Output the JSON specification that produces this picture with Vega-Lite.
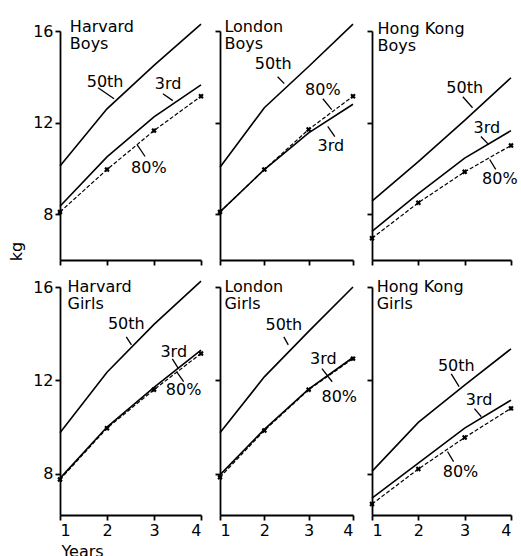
{
"$schema": "https://vega.github.io/schema/vega-lite/v6.json",
"padding": {"left": 8, "top": 19, "right": 0, "bottom": 0},
"background": "white",
"config": {
  "view": {"stroke": null},
  "axis": {"domainColor": "black", "domainWidth": 1.8, "tickColor": "black", "tickWidth": 1.8, "tickSize": 5, "labelFont": "DejaVu Sans", "labelFontSize": 16, "labelColor": "black", "grid": false, "labelPadding": 2, "titleFont": "DejaVu Sans", "titleFontSize": 16, "titleFontWeight": "normal", "titleColor": "black"},
  "text": {"font": "DejaVu Sans", "fontSize": 16, "color": "black"}
},
"datasets": {
  "lines": [
    {"p":"HB","s":"50th","x":1,"y":10.1},{"p":"HB","s":"50th","x":2,"y":12.6},{"p":"HB","s":"50th","x":3,"y":14.5},{"p":"HB","s":"50th","x":4,"y":16.3},
    {"p":"HB","s":"3rd","x":1,"y":8.35},{"p":"HB","s":"3rd","x":2,"y":10.5},{"p":"HB","s":"3rd","x":3,"y":12.25},{"p":"HB","s":"3rd","x":4,"y":13.65},
    {"p":"HB","s":"80%","x":1,"y":8.1},{"p":"HB","s":"80%","x":2,"y":9.95},{"p":"HB","s":"80%","x":3,"y":11.65},{"p":"HB","s":"80%","x":4,"y":13.15},
    {"p":"LB","s":"50th","x":1,"y":10.05},{"p":"LB","s":"50th","x":2,"y":12.65},{"p":"LB","s":"50th","x":3,"y":14.45},{"p":"LB","s":"50th","x":4,"y":16.3},
    {"p":"LB","s":"3rd","x":1,"y":8.1},{"p":"LB","s":"3rd","x":2,"y":9.95},{"p":"LB","s":"3rd","x":3,"y":11.55},{"p":"LB","s":"3rd","x":4,"y":12.8},
    {"p":"LB","s":"80%","x":1,"y":8.1},{"p":"LB","s":"80%","x":2,"y":9.95},{"p":"LB","s":"80%","x":3,"y":11.7},{"p":"LB","s":"80%","x":4,"y":13.15},
    {"p":"HKB","s":"50th","x":1,"y":8.57},{"p":"HKB","s":"50th","x":2,"y":10.3},{"p":"HKB","s":"50th","x":3,"y":12.1},{"p":"HKB","s":"50th","x":4,"y":13.96},
    {"p":"HKB","s":"3rd","x":1,"y":7.25},{"p":"HKB","s":"3rd","x":2,"y":8.9},{"p":"HKB","s":"3rd","x":3,"y":10.45},{"p":"HKB","s":"3rd","x":4,"y":11.65},
    {"p":"HKB","s":"80%","x":1,"y":6.95},{"p":"HKB","s":"80%","x":2,"y":8.5},{"p":"HKB","s":"80%","x":3,"y":9.85},{"p":"HKB","s":"80%","x":4,"y":11.0},
    {"p":"HG","s":"50th","x":1,"y":9.75},{"p":"HG","s":"50th","x":2,"y":12.35},{"p":"HG","s":"50th","x":3,"y":14.4},{"p":"HG","s":"50th","x":4,"y":16.25},
    {"p":"HG","s":"3rd","x":1,"y":7.8},{"p":"HG","s":"3rd","x":2,"y":10.0},{"p":"HG","s":"3rd","x":3,"y":11.7},{"p":"HG","s":"3rd","x":4,"y":13.3},
    {"p":"HG","s":"80%","x":1,"y":7.75},{"p":"HG","s":"80%","x":2,"y":9.95},{"p":"HG","s":"80%","x":3,"y":11.6},{"p":"HG","s":"80%","x":4,"y":13.15},
    {"p":"LG","s":"50th","x":1,"y":9.75},{"p":"LG","s":"50th","x":2,"y":12.15},{"p":"LG","s":"50th","x":3,"y":14.1},{"p":"LG","s":"50th","x":4,"y":16.0},
    {"p":"LG","s":"3rd","x":1,"y":7.95},{"p":"LG","s":"3rd","x":2,"y":9.9},{"p":"LG","s":"3rd","x":3,"y":11.62},{"p":"LG","s":"3rd","x":4,"y":12.98},
    {"p":"LG","s":"80%","x":1,"y":7.85},{"p":"LG","s":"80%","x":2,"y":9.85},{"p":"LG","s":"80%","x":3,"y":11.6},{"p":"LG","s":"80%","x":4,"y":12.93},
    {"p":"HKG","s":"50th","x":1,"y":8.1},{"p":"HKG","s":"50th","x":2,"y":10.2},{"p":"HKG","s":"50th","x":3,"y":11.8},{"p":"HKG","s":"50th","x":4,"y":13.35},
    {"p":"HKG","s":"3rd","x":1,"y":6.95},{"p":"HKG","s":"3rd","x":2,"y":8.45},{"p":"HKG","s":"3rd","x":3,"y":9.95},{"p":"HKG","s":"3rd","x":4,"y":11.15},
    {"p":"HKG","s":"80%","x":1,"y":6.7},{"p":"HKG","s":"80%","x":2,"y":8.2},{"p":"HKG","s":"80%","x":3,"y":9.55},{"p":"HKG","s":"80%","x":4,"y":10.8}
  ],
  "labels": [
    {"p":"HB","t":"50th","x":1.96,"y":13.78},{"p":"HB","t":"3rd","x":3.3,"y":13.7},{"p":"HB","t":"80%","x":2.89,"y":10.0},
    {"p":"LB","t":"50th","x":2.2,"y":14.55},{"p":"LB","t":"80%","x":3.32,"y":13.43},{"p":"LB","t":"3rd","x":3.5,"y":10.96},
    {"p":"HKB","t":"50th","x":3.0,"y":13.52},{"p":"HKB","t":"3rd","x":3.48,"y":11.78},{"p":"HKB","t":"80%","x":3.76,"y":9.52},
    {"p":"HG","t":"50th","x":2.41,"y":14.42},{"p":"HG","t":"3rd","x":3.42,"y":13.22},{"p":"HG","t":"80%","x":3.63,"y":11.6},
    {"p":"LG","t":"50th","x":2.44,"y":14.38},{"p":"LG","t":"3rd","x":3.33,"y":12.92},{"p":"LG","t":"80%","x":3.69,"y":11.3},
    {"p":"HKG","t":"50th","x":2.82,"y":12.62},{"p":"HKG","t":"3rd","x":3.31,"y":11.17},{"p":"HKG","t":"80%","x":2.91,"y":8.09}
  ],
  "leaders": [
    {"p":"HB","x":1.81,"y":13.52,"x2":2.15,"y2":13.04},{"p":"HB","x":3.19,"y":13.26,"x2":3.4,"y2":12.96},{"p":"HB","x":2.64,"y":11.04,"x2":2.81,"y2":10.52},
    {"p":"LB","x":2.3,"y":14.0,"x2":2.45,"y2":13.7},{"p":"LB","x":3.32,"y":13.04,"x2":3.52,"y2":12.57},{"p":"LB","x":3.43,"y":11.83,"x2":3.59,"y2":11.39},
    {"p":"HKB","x":2.96,"y":13.13,"x2":3.17,"y2":12.65},{"p":"HKB","x":3.35,"y":11.39,"x2":3.52,"y2":11.04},{"p":"HKB","x":3.54,"y":10.39,"x2":3.67,"y2":9.96},
    {"p":"HG","x":2.41,"y":13.86,"x2":2.52,"y2":13.52},{"p":"HG","x":3.39,"y":12.92,"x2":3.52,"y2":12.5},{"p":"HG","x":3.63,"y":11.94,"x2":3.48,"y2":12.37},
    {"p":"LG","x":2.44,"y":13.86,"x2":2.54,"y2":13.52},{"p":"LG","x":3.3,"y":12.5,"x2":3.53,"y2":11.94},
    {"p":"HKG","x":2.71,"y":12.28,"x2":2.88,"y2":11.73},{"p":"HKG","x":3.21,"y":10.79,"x2":3.36,"y2":10.44},{"p":"HKG","x":2.63,"y":8.95,"x2":2.76,"y2":8.52}
  ],
  "titles": [
    {"p":"HB","t":"Harvard\nBoys","x":1.21,"y":16.17},
    {"p":"LB","t":"London\nBoys","x":1.1,"y":16.17},
    {"p":"HKB","t":"Hong Kong\nBoys","x":1.12,"y":16.09},
    {"p":"HG","t":"Harvard\nGirls","x":1.16,"y":16.0},
    {"p":"LG","t":"London\nGirls","x":1.1,"y":16.0},
    {"p":"HKG","t":"Hong Kong\nGirls","x":1.1,"y":16.0}
  ]
},
"columns": 3,
"bounds": "flush",
"spacing": {"row": 27, "column": 19},
"concat": [
    {"width": 141, "height": 229, "layer": [
      {"data":{"name":"lines"},"transform":[{"filter":"datum.p=='HB' && datum.s!='80%'"}],"mark":{"type":"line","color":"black","strokeWidth":1.6},
       "encoding":{"x":{"field":"x","type":"quantitative","scale":{"domain":[1,4],"nice":false,"zero":false},"axis":{"values":[1,2,3,4],"labels":false,"title":null}},
                   "y":{"field":"y","type":"quantitative","scale":{"domain":[6,16],"nice":false,"zero":false},"axis":{"values":[8,12,16],"title":"kg","titleAngle":-90,"titleX":-44,"titleY":220,"titleAlign":"center","titleBaseline":"middle"}},
                   "detail":{"field":"s"}}},
      {"data":{"name":"lines"},"transform":[{"filter":"datum.p=='HB' && datum.s=='80%'"}],"mark":{"type":"line","color":"black","strokeWidth":1.2,"strokeDash":[4,2]},
       "encoding":{"x":{"field":"x","type":"quantitative"},"y":{"field":"y","type":"quantitative"}}},
      {"data":{"name":"lines"},"transform":[{"filter":"datum.p=='HB' && datum.s=='80%'"}],"mark":{"type":"point","shape":"cross","angle":45,"filled":true,"color":"black","size":30,"opacity":1},
       "encoding":{"x":{"field":"x","type":"quantitative"},"y":{"field":"y","type":"quantitative"}}},
      {"data":{"name":"leaders"},"transform":[{"filter":"datum.p=='HB'"}],"mark":{"type":"rule","color":"black","strokeWidth":1.3},
       "encoding":{"x":{"field":"x","type":"quantitative"},"y":{"field":"y","type":"quantitative"},"x2":{"field":"x2"},"y2":{"field":"y2"}}},
      {"data":{"name":"labels"},"transform":[{"filter":"datum.p=='HB'"}],"mark":{"type":"text"},
       "encoding":{"x":{"field":"x","type":"quantitative"},"y":{"field":"y","type":"quantitative"},"text":{"field":"t"}}},
      {"data":{"name":"titles"},"transform":[{"filter":"datum.p=='HB'"}],"mark":{"type":"text","align":"left","lineBreak":"\n","lineHeight":17},
       "encoding":{"x":{"field":"x","type":"quantitative"},"y":{"field":"y","type":"quantitative"},"text":{"field":"t"}}}
    ]},
    {"width": 133, "height": 229, "layer": [
      {"data":{"name":"lines"},"transform":[{"filter":"datum.p=='LB' && datum.s!='80%'"}],"mark":{"type":"line","color":"black","strokeWidth":1.6},
       "encoding":{"x":{"field":"x","type":"quantitative","scale":{"domain":[1,4],"nice":false,"zero":false},"axis":{"values":[1,2,3,4],"labels":false,"title":null}},
                   "y":{"field":"y","type":"quantitative","scale":{"domain":[6,16],"nice":false,"zero":false},"axis":{"values":[8,12,16],"labels":false,"title":null}},
                   "detail":{"field":"s"}}},
      {"data":{"name":"lines"},"transform":[{"filter":"datum.p=='LB' && datum.s=='80%'"}],"mark":{"type":"line","color":"black","strokeWidth":1.2,"strokeDash":[4,2]},
       "encoding":{"x":{"field":"x","type":"quantitative"},"y":{"field":"y","type":"quantitative"}}},
      {"data":{"name":"lines"},"transform":[{"filter":"datum.p=='LB' && datum.s=='80%'"}],"mark":{"type":"point","shape":"cross","angle":45,"filled":true,"color":"black","size":30,"opacity":1},
       "encoding":{"x":{"field":"x","type":"quantitative"},"y":{"field":"y","type":"quantitative"}}},
      {"data":{"name":"leaders"},"transform":[{"filter":"datum.p=='LB'"}],"mark":{"type":"rule","color":"black","strokeWidth":1.3},
       "encoding":{"x":{"field":"x","type":"quantitative"},"y":{"field":"y","type":"quantitative"},"x2":{"field":"x2"},"y2":{"field":"y2"}}},
      {"data":{"name":"labels"},"transform":[{"filter":"datum.p=='LB'"}],"mark":{"type":"text"},
       "encoding":{"x":{"field":"x","type":"quantitative"},"y":{"field":"y","type":"quantitative"},"text":{"field":"t"}}},
      {"data":{"name":"titles"},"transform":[{"filter":"datum.p=='LB'"}],"mark":{"type":"text","align":"left","lineBreak":"\n","lineHeight":17},
       "encoding":{"x":{"field":"x","type":"quantitative"},"y":{"field":"y","type":"quantitative"},"text":{"field":"t"}}}
    ]},
    {"width": 139, "height": 229, "layer": [
      {"data":{"name":"lines"},"transform":[{"filter":"datum.p=='HKB' && datum.s!='80%'"}],"mark":{"type":"line","color":"black","strokeWidth":1.6},
       "encoding":{"x":{"field":"x","type":"quantitative","scale":{"domain":[1,4],"nice":false,"zero":false},"axis":{"values":[1,2,3,4],"labels":false,"title":null}},
                   "y":{"field":"y","type":"quantitative","scale":{"domain":[6,16],"nice":false,"zero":false},"axis":{"values":[8,12,16],"labels":false,"title":null}},
                   "detail":{"field":"s"}}},
      {"data":{"name":"lines"},"transform":[{"filter":"datum.p=='HKB' && datum.s=='80%'"}],"mark":{"type":"line","color":"black","strokeWidth":1.2,"strokeDash":[4,2]},
       "encoding":{"x":{"field":"x","type":"quantitative"},"y":{"field":"y","type":"quantitative"}}},
      {"data":{"name":"lines"},"transform":[{"filter":"datum.p=='HKB' && datum.s=='80%'"}],"mark":{"type":"point","shape":"cross","angle":45,"filled":true,"color":"black","size":30,"opacity":1},
       "encoding":{"x":{"field":"x","type":"quantitative"},"y":{"field":"y","type":"quantitative"}}},
      {"data":{"name":"leaders"},"transform":[{"filter":"datum.p=='HKB'"}],"mark":{"type":"rule","color":"black","strokeWidth":1.3},
       "encoding":{"x":{"field":"x","type":"quantitative"},"y":{"field":"y","type":"quantitative"},"x2":{"field":"x2"},"y2":{"field":"y2"}}},
      {"data":{"name":"labels"},"transform":[{"filter":"datum.p=='HKB'"}],"mark":{"type":"text"},
       "encoding":{"x":{"field":"x","type":"quantitative"},"y":{"field":"y","type":"quantitative"},"text":{"field":"t"}}},
      {"data":{"name":"titles"},"transform":[{"filter":"datum.p=='HKB'"}],"mark":{"type":"text","align":"left","lineBreak":"\n","lineHeight":17},
       "encoding":{"x":{"field":"x","type":"quantitative"},"y":{"field":"y","type":"quantitative"},"text":{"field":"t"}}}
    ]},
    {"width": 141, "height": 228, "layer": [
      {"data":{"name":"lines"},"transform":[{"filter":"datum.p=='HG' && datum.s!='80%'"}],"mark":{"type":"line","color":"black","strokeWidth":1.6},
       "encoding":{"x":{"field":"x","type":"quantitative","scale":{"domain":[1,4],"nice":false,"zero":false},"axis":{"values":[1,2,3,4],"title":"Years","titleX":22,"titleY":36,"titleAlign":"center","titleBaseline":"middle"}},
                   "y":{"field":"y","type":"quantitative","scale":{"domain":[6.23,16],"nice":false,"zero":false},"axis":{"values":[8,12,16],"title":null}},
                   "detail":{"field":"s"}}},
      {"data":{"name":"lines"},"transform":[{"filter":"datum.p=='HG' && datum.s=='80%'"}],"mark":{"type":"line","color":"black","strokeWidth":1.2,"strokeDash":[4,2]},
       "encoding":{"x":{"field":"x","type":"quantitative"},"y":{"field":"y","type":"quantitative"}}},
      {"data":{"name":"lines"},"transform":[{"filter":"datum.p=='HG' && datum.s=='80%'"}],"mark":{"type":"point","shape":"cross","angle":45,"filled":true,"color":"black","size":30,"opacity":1},
       "encoding":{"x":{"field":"x","type":"quantitative"},"y":{"field":"y","type":"quantitative"}}},
      {"data":{"name":"leaders"},"transform":[{"filter":"datum.p=='HG'"}],"mark":{"type":"rule","color":"black","strokeWidth":1.3},
       "encoding":{"x":{"field":"x","type":"quantitative"},"y":{"field":"y","type":"quantitative"},"x2":{"field":"x2"},"y2":{"field":"y2"}}},
      {"data":{"name":"labels"},"transform":[{"filter":"datum.p=='HG'"}],"mark":{"type":"text"},
       "encoding":{"x":{"field":"x","type":"quantitative"},"y":{"field":"y","type":"quantitative"},"text":{"field":"t"}}},
      {"data":{"name":"titles"},"transform":[{"filter":"datum.p=='HG'"}],"mark":{"type":"text","align":"left","lineBreak":"\n","lineHeight":17},
       "encoding":{"x":{"field":"x","type":"quantitative"},"y":{"field":"y","type":"quantitative"},"text":{"field":"t"}}}
    ]},
    {"width": 133, "height": 228, "layer": [
      {"data":{"name":"lines"},"transform":[{"filter":"datum.p=='LG' && datum.s!='80%'"}],"mark":{"type":"line","color":"black","strokeWidth":1.6},
       "encoding":{"x":{"field":"x","type":"quantitative","scale":{"domain":[1,4],"nice":false,"zero":false},"axis":{"values":[1,2,3,4],"title":null}},
                   "y":{"field":"y","type":"quantitative","scale":{"domain":[6.23,16],"nice":false,"zero":false},"axis":{"values":[8,12,16],"labels":false,"title":null}},
                   "detail":{"field":"s"}}},
      {"data":{"name":"lines"},"transform":[{"filter":"datum.p=='LG' && datum.s=='80%'"}],"mark":{"type":"line","color":"black","strokeWidth":1.2,"strokeDash":[4,2]},
       "encoding":{"x":{"field":"x","type":"quantitative"},"y":{"field":"y","type":"quantitative"}}},
      {"data":{"name":"lines"},"transform":[{"filter":"datum.p=='LG' && datum.s=='80%'"}],"mark":{"type":"point","shape":"cross","angle":45,"filled":true,"color":"black","size":30,"opacity":1},
       "encoding":{"x":{"field":"x","type":"quantitative"},"y":{"field":"y","type":"quantitative"}}},
      {"data":{"name":"leaders"},"transform":[{"filter":"datum.p=='LG'"}],"mark":{"type":"rule","color":"black","strokeWidth":1.3},
       "encoding":{"x":{"field":"x","type":"quantitative"},"y":{"field":"y","type":"quantitative"},"x2":{"field":"x2"},"y2":{"field":"y2"}}},
      {"data":{"name":"labels"},"transform":[{"filter":"datum.p=='LG'"}],"mark":{"type":"text"},
       "encoding":{"x":{"field":"x","type":"quantitative"},"y":{"field":"y","type":"quantitative"},"text":{"field":"t"}}},
      {"data":{"name":"titles"},"transform":[{"filter":"datum.p=='LG'"}],"mark":{"type":"text","align":"left","lineBreak":"\n","lineHeight":17},
       "encoding":{"x":{"field":"x","type":"quantitative"},"y":{"field":"y","type":"quantitative"},"text":{"field":"t"}}}
    ]},
    {"width": 139, "height": 228, "layer": [
      {"data":{"name":"lines"},"transform":[{"filter":"datum.p=='HKG' && datum.s!='80%'"}],"mark":{"type":"line","color":"black","strokeWidth":1.6},
       "encoding":{"x":{"field":"x","type":"quantitative","scale":{"domain":[1,4],"nice":false,"zero":false},"axis":{"values":[1,2,3,4],"title":null}},
                   "y":{"field":"y","type":"quantitative","scale":{"domain":[6.23,16],"nice":false,"zero":false},"axis":{"values":[8,12,16],"labels":false,"title":null}},
                   "detail":{"field":"s"}}},
      {"data":{"name":"lines"},"transform":[{"filter":"datum.p=='HKG' && datum.s=='80%'"}],"mark":{"type":"line","color":"black","strokeWidth":1.2,"strokeDash":[4,2]},
       "encoding":{"x":{"field":"x","type":"quantitative"},"y":{"field":"y","type":"quantitative"}}},
      {"data":{"name":"lines"},"transform":[{"filter":"datum.p=='HKG' && datum.s=='80%'"}],"mark":{"type":"point","shape":"cross","angle":45,"filled":true,"color":"black","size":30,"opacity":1},
       "encoding":{"x":{"field":"x","type":"quantitative"},"y":{"field":"y","type":"quantitative"}}},
      {"data":{"name":"leaders"},"transform":[{"filter":"datum.p=='HKG'"}],"mark":{"type":"rule","color":"black","strokeWidth":1.3},
       "encoding":{"x":{"field":"x","type":"quantitative"},"y":{"field":"y","type":"quantitative"},"x2":{"field":"x2"},"y2":{"field":"y2"}}},
      {"data":{"name":"labels"},"transform":[{"filter":"datum.p=='HKG'"}],"mark":{"type":"text"},
       "encoding":{"x":{"field":"x","type":"quantitative"},"y":{"field":"y","type":"quantitative"},"text":{"field":"t"}}},
      {"data":{"name":"titles"},"transform":[{"filter":"datum.p=='HKG'"}],"mark":{"type":"text","align":"left","lineBreak":"\n","lineHeight":17},
       "encoding":{"x":{"field":"x","type":"quantitative"},"y":{"field":"y","type":"quantitative"},"text":{"field":"t"}}}
    ]}
]
}
